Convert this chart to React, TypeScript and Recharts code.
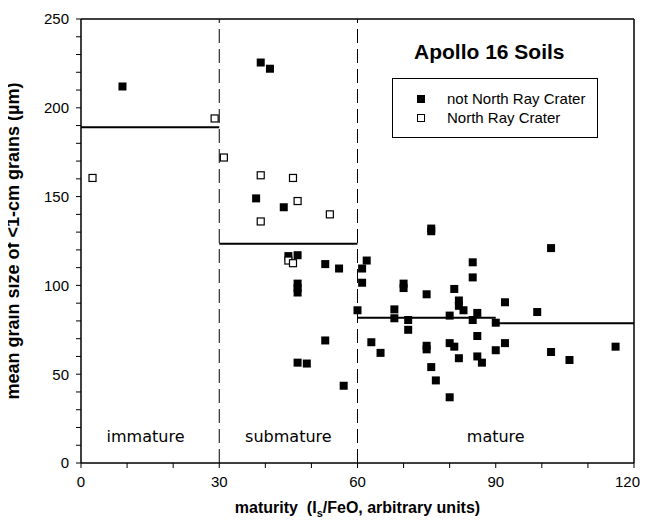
import React from 'react';
import {
  ScatterChart,
  Scatter,
  XAxis,
  YAxis,
  ReferenceLine,
  ReferenceDot,
} from 'recharts';

// soils outside North Ray Crater (filled squares)
const otherX = [
  9, 39, 41, 38, 44, 45, 47, 53, 56, 62, 61, 61, 47, 47, 47, 60, 53, 63, 65, 47,
  49, 57, 76, 76, 85, 85, 70, 70, 75, 81, 82, 82, 83, 68, 68, 71, 71, 80, 86, 85,
  86, 75, 75, 80, 81, 82, 86, 87, 76, 77, 80, 102, 92, 99, 90, 92, 90, 102, 106, 116,
];
const otherY = [
  212, 225.5, 222, 149, 144, 116.5, 117, 112, 109.5, 114, 109.5, 101.5, 101, 98.5, 96, 86, 69, 68, 62, 56.5,
  56, 43.5, 132, 130.5, 113, 104.5, 101, 98.5, 95, 98, 91.5, 88.5, 86, 86.5, 81.5, 80.5, 75, 83, 84.5, 80.5,
  71.5, 66, 64, 67.5, 65.5, 59, 60, 56.5, 54, 46.5, 37, 121, 90.5, 85, 79, 67.5, 63.5, 62.5, 58, 65.5,
];

// North Ray Crater soils (open squares)
const northRayX = [2.5, 29, 31, 39, 46, 47, 39, 54, 45, 46];
const northRayY = [160.5, 194, 172, 162, 160.5, 147.5, 136, 140, 114, 112.5];

// mean grain size for each maturity class
const meanSegments = [
  { from: 0, to: 30, y: 189 },
  { from: 30, to: 60, y: 123.5 },
  { from: 60, to: 90, y: 81.8 },
  { from: 90, to: 120, y: 78.7 },
];

const classBounds = [30, 60];
const classLabels = [
  { x: 14, name: 'immature' },
  { x: 45, name: 'submature' },
  { x: 90, name: 'mature' },
];

const xTicks = [0, 10, 20, 30, 40, 50, 60, 70, 80, 90, 100, 110, 120];
const yTicks = [0, 10, 20, 30, 40, 50, 60, 70, 80, 90, 100, 110, 120, 130, 140, 150, 160, 170, 180, 190, 200, 210, 220, 230, 240, 250];

const otherData = otherX.map((x, i) => ({ x, y: otherY[i] }));
const northRayData = northRayX.map((x, i) => ({ x, y: northRayY[i] }));

const FONT = '"Liberation Sans", Arial, Helvetica, sans-serif';
const tickStyle = { fill: '#000', fontSize: 15, fontFamily: FONT };

const FilledSquare = (props: any) => (
  <rect x={props.cx - 4} y={props.cy - 4} width={8} height={8} fill="#000" />
);
const OpenSquare = (props: any) => (
  <rect x={props.cx - 3.5} y={props.cy - 3.5} width={7} height={7} fill="#fff" stroke="#000" strokeWidth={1.2} />
);

// bottom tick labels: only every 30, last one pulled inside the frame
const XTick = (props: any) => {
  const v = props.payload.value;
  if (v % 30 !== 0) return null;
  const last = v === 120;
  return (
    <text
      x={last ? props.x + 6 : props.x}
      y={props.y}
      dy="0.71em"
      textAnchor={last ? 'end' : 'middle'}
      fill="#000"
      fontSize={15}
      fontFamily={FONT}
    >
      {v}
    </text>
  );
};

export default function App() {
  return (
    <div style={{ position: 'relative', width: 640, height: 513, fontFamily: FONT }}>
      <ScatterChart width={640} height={513} margin={{ top: 0, right: 0, bottom: 0, left: 0 }}>
        <XAxis
          xAxisId="b"
          type="number"
          dataKey="x"
          domain={[0, 120]}
          ticks={xTicks}
          interval={0}
          height={58}
          tickSize={5}
          tickMargin={8}
          tick={<XTick />}
          axisLine={{ stroke: '#000', strokeWidth: 1.5 }}
          tickLine={{ stroke: '#000' }}
        />
        <XAxis
          xAxisId="t"
          orientation="top"
          type="number"
          dataKey="x"
          domain={[0, 120]}
          ticks={xTicks}
          interval={0}
          height={11}
          tickSize={5}
          tickFormatter={() => ''}
          axisLine={{ stroke: '#000', strokeWidth: 1.5 }}
          tickLine={{ stroke: '#000' }}
        />
        <YAxis
          yAxisId="l"
          type="number"
          dataKey="y"
          domain={[0, 250]}
          ticks={yTicks}
          interval={0}
          width={73}
          tickSize={5}
          tickMargin={7}
          tick={tickStyle}
          tickFormatter={(v) => (v % 50 === 0 ? String(v) : '')}
          axisLine={{ stroke: '#000', strokeWidth: 1.5 }}
          tickLine={{ stroke: '#000' }}
        />
        <YAxis
          yAxisId="r"
          orientation="right"
          type="number"
          dataKey="y"
          domain={[0, 250]}
          ticks={yTicks}
          interval={0}
          width={14}
          tickSize={5}
          tickFormatter={() => ''}
          axisLine={{ stroke: '#000', strokeWidth: 1.5 }}
          tickLine={{ stroke: '#000' }}
        />

        {classBounds.map((b) => (
          <ReferenceLine
            key={b}
            xAxisId="b"
            yAxisId="l"
            x={b}
            stroke="#000"
            strokeWidth={1}
            strokeDasharray="14 6"
          />
        ))}
        {meanSegments.map((s) => (
          <ReferenceLine
            key={s.from}
            xAxisId="b"
            yAxisId="l"
            segment={[{ x: s.from, y: s.y }, { x: s.to, y: s.y }]}
            stroke="#000"
            strokeWidth={2}
          />
        ))}
        {classLabels.map((c) => (
          <ReferenceDot
            key={c.name}
            xAxisId="b"
            yAxisId="l"
            x={c.x}
            y={15}
            r={0}
            fill="none"
            stroke="none"
            label={{ value: c.name, position: 'center', fill: '#000', fontSize: 16, fontFamily: '"DejaVu Sans", sans-serif' }}
          />
        ))}

        <Scatter
          xAxisId="b"
          yAxisId="l"
          name="not North Ray Crater"
          data={otherData}
          shape={FilledSquare}
          isAnimationActive={false}
        />
        <Scatter
          xAxisId="b"
          yAxisId="l"
          name="North Ray Crater"
          data={northRayData}
          shape={OpenSquare}
          isAnimationActive={false}
        />
      </ScatterChart>

      <div
        style={{
          position: 'absolute',
          left: 406,
          top: 30,
          fontSize: 21,
          fontWeight: 'bold',
          lineHeight: '28px',
          whiteSpace: 'nowrap',
        }}
      >
        Apollo 16 Soils
      </div>

      <div
        style={{
          position: 'absolute',
          left: 384,
          top: 70,
          width: 206,
          height: 60,
          border: '1px solid #000',
          boxSizing: 'border-box',
          fontSize: 15,
        }}
      >
        <div style={{ position: 'absolute', left: 24, top: 16, width: 8, height: 8, background: '#000' }} />
        <div style={{ position: 'absolute', left: 54, top: 11, lineHeight: '18px', whiteSpace: 'nowrap' }}>not North Ray Crater</div>
        <div
          style={{
            position: 'absolute',
            left: 24,
            top: 35,
            width: 8,
            height: 8,
            border: '1px solid #000',
            boxSizing: 'border-box',
          }}
        />
        <div style={{ position: 'absolute', left: 54, top: 30, lineHeight: '18px', whiteSpace: 'nowrap' }}>North Ray Crater</div>
      </div>

      <div
        style={{
          position: 'absolute',
          left: 0,
          width: 699,
          top: 490,
          textAlign: 'center',
          fontSize: 16,
          lineHeight: '20px',
          fontWeight: 'bold',
          whiteSpace: 'nowrap',
        }}
      >
        maturity&nbsp;&nbsp;(I<sub style={{ fontSize: 11, lineHeight: 0 }}>s</sub>/FeO, arbitrary units)
      </div>

      <div
        style={{
          position: 'absolute',
          left: 5,
          top: 233,
          width: 0,
          height: 0,
        }}
      >
        <div
          style={{
            position: 'absolute',
            left: 0,
            top: 0,
            transform: 'translate(-50%, -50%) rotate(-90deg)',
            fontSize: 18,
            fontWeight: 'bold',
            whiteSpace: 'nowrap',
          }}
        >
          mean grain size of &lt;1-cm grains (µm)
        </div>
      </div>
    </div>
  );
}
